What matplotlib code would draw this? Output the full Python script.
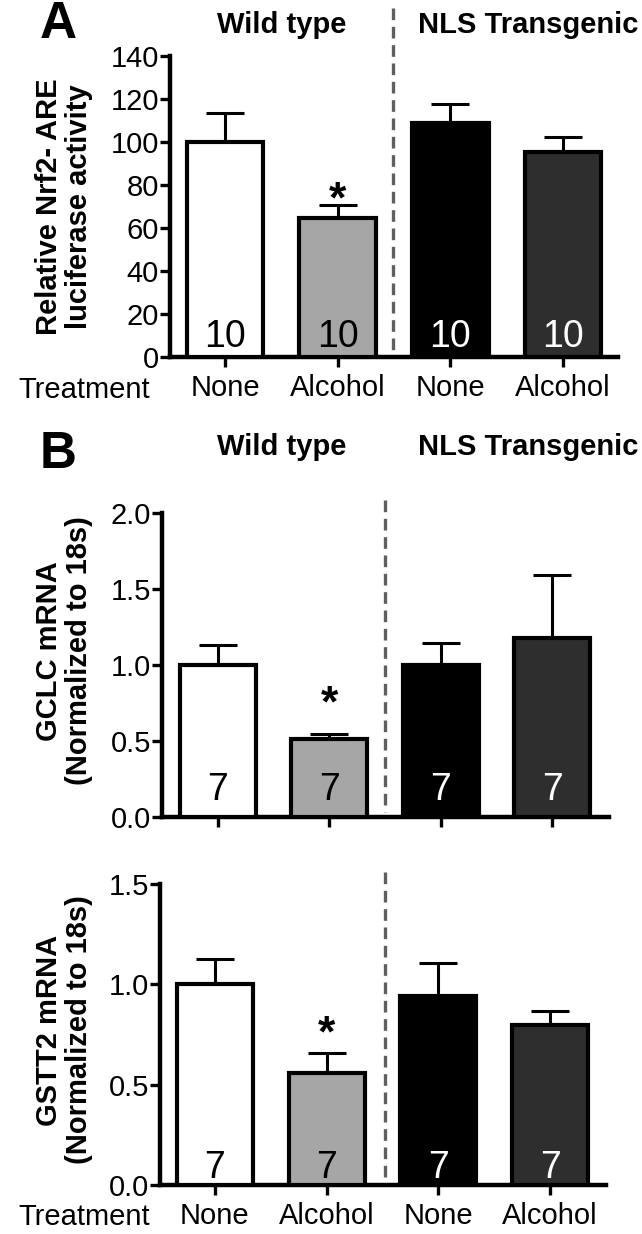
import matplotlib
matplotlib.use("Agg")
import matplotlib.pyplot as plt
from matplotlib.lines import Line2D

plt.rcParams['font.family'] = ['Liberation Sans', 'DejaVu Sans']

treatments = ["None", "Alcohol", "None", "Alcohol"]
bar_colors = ["#ffffff", "#a6a6a6", "#000000", "#2e2e2e"]
count_colors = ["black", "black", "white", "white"]

nrf2_vals = [100, 64.6, 108.7, 95.5]
nrf2_err = [13.5, 5.9, 9.0, 6.7]
nrf2_n = [10, 10, 10, 10]

gclc_vals = [1.0, 0.51, 1.0, 1.18]
gclc_err = [0.13, 0.035, 0.146, 0.41]
gclc_n = [7, 7, 7, 7]

gstt2_vals = [1.0, 0.56, 0.94, 0.795]
gstt2_err = [0.125, 0.10, 0.165, 0.072]
gstt2_n = [7, 7, 7, 7]

W, H = 642, 1234
fig = plt.figure(figsize=(W / 100, H / 100), dpi=100)


def rect(l, r, top, bottom):
    return [l / W, 1 - bottom / H, (r - l) / W, (bottom - top) / H]


def fx(px):
    return px / W


def fy(py):
    return 1 - py / H


def panel(box, vals, errs, ns, ymax, ystep, fmt, xlim, n_off, star_off, show_labels, label_pad):
    ax = fig.add_axes(box)
    x = list(range(len(vals)))
    ax.bar(x, vals, width=0.68, color=bar_colors, edgecolor="black", linewidth=3, zorder=3)
    ax.errorbar(x, vals, yerr=[[0] * len(errs), errs], fmt="none", ecolor="black",
                elinewidth=2.2, capsize=14, capthick=2.2, zorder=2)
    ax.set_xlim(*xlim)
    ax.set_ylim(0, ymax)
    ticks = [i * ystep for i in range(int(round(ymax / ystep)) + 1)]
    ax.set_yticks(ticks)
    ax.set_yticklabels([fmt.format(t) for t in ticks])
    ax.set_xticks(x)
    if show_labels:
        ax.set_xticklabels(treatments)
    else:
        ax.set_xticklabels([])
    for s in ["top", "right"]:
        ax.spines[s].set_visible(False)
    for s in ["left", "bottom"]:
        ax.spines[s].set_linewidth(3.2)
    ax.tick_params(axis="both", width=2.4, length=7, labelsize=21, direction="out")
    ax.tick_params(axis="x", pad=label_pad, labelsize=21)
    ax.tick_params(axis="y", pad=1)
    for i, n in enumerate(ns):
        ax.annotate(str(n), xy=(i, 0), xytext=(0, n_off), textcoords="offset points",
                    ha="center", va="baseline", fontsize=27, color=count_colors[i], zorder=5)
    ax.annotate("*", xy=(1, vals[1] + errs[1]), xytext=(0, star_off), textcoords="offset points",
                ha="center", va="center", fontsize=32, fontweight="bold")
    return ax


# panel A
panel(rect(170, 618, 56, 357), nrf2_vals, nrf2_err, nrf2_n, 140, 20, "{:.0f}",
      (-0.49, 3.49), 7, 3, True, 5)
# panel B
panel(rect(162, 609, 513, 817), gclc_vals, gclc_err, gclc_n, 2.0, 0.5, "{:.1f}",
      (-0.5, 3.51), 12, 21, False, 5)
panel(rect(160, 606, 884, 1185), gstt2_vals, gstt2_err, gstt2_n, 1.5, 0.5, "{:.1f}",
      (-0.49, 3.5), 5, 13, True, 5)

# dashed separators
for x0, y0, y1 in [(393, 8, 352), (385, 500, 812), (385, 872, 1182)]:
    fig.add_artist(Line2D([fx(x0), fx(x0)], [fy(y0), fy(y1)], color="#5f5f5f",
                          linewidth=2.4, linestyle=(0, (3.5, 2))))

# panel letters and group headers
fig.text(fx(40), fy(38), "A", fontsize=37, fontweight="bold", ha="left", va="baseline")
fig.text(fx(40), fy(468), "B", fontsize=37, fontweight="bold", ha="left", va="baseline")
for yb in [33, 455]:
    fig.text(fx(282), fy(yb), "Wild type", fontsize=21, fontweight="bold", ha="center", va="baseline")
    fig.text(fx(528), fy(yb), "NLS Transgenic", fontsize=21, fontweight="bold", ha="center", va="baseline")

# y labels
fig.text(fx(64), fy(207), "Relative Nrf2- ARE\nluciferase activity", rotation=90,
         fontsize=21, fontweight="bold", ha="center", va="center", multialignment="center",
         linespacing=1.05)
fig.text(fx(64), fy(651), "GCLC mRNA\n(Normalized to 18s)", rotation=90,
         fontsize=21, fontweight="bold", ha="center", va="center", multialignment="center",
         linespacing=1.05)
fig.text(fx(64), fy(1030), "GSTT2 mRNA\n(Normalized to 18s)", rotation=90,
         fontsize=21, fontweight="bold", ha="center", va="center", multialignment="center",
         linespacing=1.05)

# treatment row labels
fig.text(fx(150), fy(398), "Treatment", fontsize=21, ha="right", va="baseline")
fig.text(fx(150), fy(1225), "Treatment", fontsize=21, ha="right", va="baseline")

fig.savefig("out.png", dpi=100)
